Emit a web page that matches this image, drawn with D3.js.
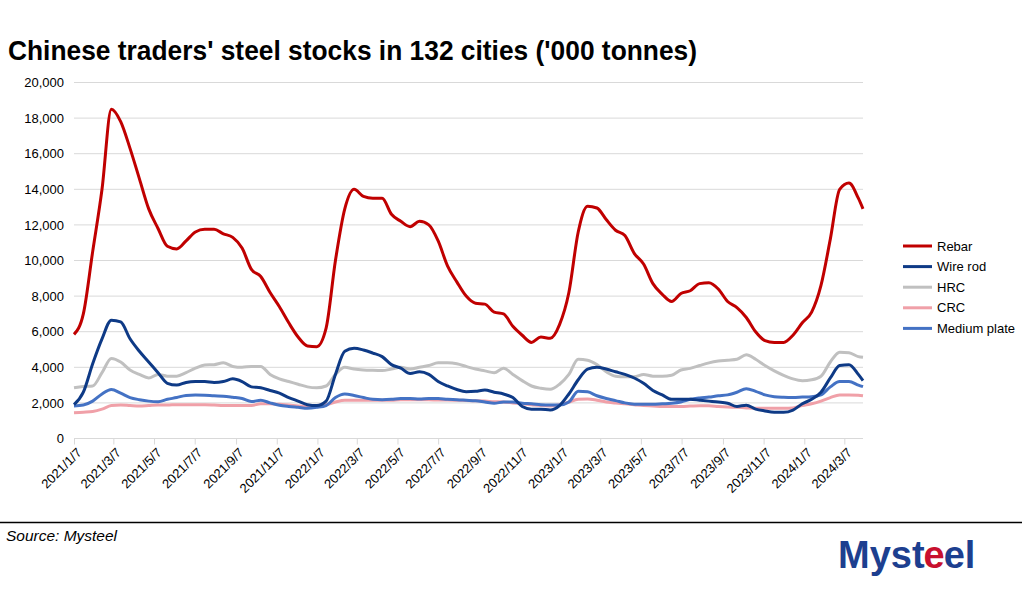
<!DOCTYPE html>
<html>
<head>
<meta charset="utf-8">
<script src="https://cdn.jsdelivr.net/npm/d3@7"></script>
<style>
  body { margin: 0; background: #fff; }
  svg { display: block; font-family: "Liberation Sans", Arial, sans-serif; }
</style>
</head>
<body>
<div id="chart"></div>
<script>
// data: Mysteel weekly stocks, sampled every two weeks ('000 tonnes)
var startDate = "2021/1/7", endDate = "2024/4/4";
var tickLabels = ["2021/1/7","2021/3/7","2021/5/7","2021/7/7","2021/9/7","2021/11/7",
  "2022/1/7","2022/3/7","2022/5/7","2022/7/7","2022/9/7","2022/11/7",
  "2023/1/7","2023/3/7","2023/5/7","2023/7/7","2023/9/7","2023/11/7",
  "2024/1/7","2024/3/7"];
var yTicks = [0,2000,4000,6000,8000,10000,12000,14000,16000,18000,20000];
var seriesNames = ["Rebar","Wire rod","HRC","CRC","Medium plate"];
var seriesColors = ["#c00000","#0e3a86","#c0c0c0","#f0a0a8","#4472c4"];

var rebar = [5850,7000,10500,14000,18500,17800,16300,14600,12900,11800,10800,10650,11100,11600,11750,11750,
  11500,11300,10700,9500,9100,8200,7400,6500,5700,5200,5160,6200,10000,12900,14000,13600,13500,13500,12600,12200,
  11900,12200,12000,11100,9700,8800,8000,7600,7550,7100,7000,6300,5800,5400,5700,5630,6400,8200,11600,13050,
  12950,12300,11700,11400,10400,9800,8700,8100,7700,8150,8300,8700,8750,8400,7700,7350,6800,6000,5500,5400,
  5400,5800,6500,7100,8600,11200,14000,14350,13500,12900];
var wireRod = [1900,2600,4200,5600,6650,6550,5600,4900,4300,3700,3100,3000,3150,3200,3200,3150,
  3200,3350,3200,2900,2850,2700,2550,2300,2100,1900,1850,2100,3600,4900,5070,4970,4800,4600,4150,3950,
  3650,3750,3600,3200,2950,2750,2630,2650,2720,2600,2500,2300,1800,1650,1650,1600,1850,2500,3300,3900,
  4000,3900,3750,3600,3400,3100,2700,2450,2200,2200,2200,2150,2100,2050,1980,1800,1870,1650,1550,1480,
  1470,1600,1950,2200,2600,3400,4100,4150,3600,3250];
var hrc = [2850,2920,2950,3700,4500,4300,3850,3600,3400,3600,3500,3500,3700,3950,4130,4150,
  4250,4050,4000,4050,4050,3600,3350,3200,3050,2900,2850,2950,3600,4000,3900,3850,3830,3820,3900,4000,
  3900,4000,4100,4250,4250,4200,4050,3900,3800,3700,3950,3600,3250,2950,2820,2760,3050,3600,4450,4400,
  4150,3750,3500,3470,3470,3600,3500,3500,3550,3850,3940,4100,4250,4350,4400,4450,4700,4450,4100,3800,
  3550,3350,3250,3300,3500,4300,4850,4820,4600,4560];
var crc = [1450,1480,1520,1650,1850,1880,1850,1820,1850,1880,1880,1900,1900,1900,1900,1880,
  1850,1850,1850,1850,1950,1950,1920,1880,1820,1800,1850,1900,2050,2150,2150,2150,2150,2150,2150,2170,
  2170,2170,2170,2160,2160,2150,2140,2120,2100,2070,2050,2000,1950,1900,1850,1830,1900,2050,2200,2220,
  2150,2050,2000,1950,1900,1850,1830,1800,1800,1800,1820,1840,1840,1800,1770,1750,1720,1700,1700,1700,
  1700,1720,1850,1950,2100,2300,2450,2450,2430,2400];
var mediumPlate = [1830,1880,2100,2500,2750,2550,2300,2180,2100,2070,2200,2300,2420,2440,2430,2400,
  2380,2320,2250,2080,2150,2000,1870,1800,1750,1700,1750,1850,2300,2500,2420,2300,2200,2180,2200,2250,
  2250,2220,2250,2250,2200,2180,2150,2120,2050,1980,2050,2050,1980,1950,1900,1880,1880,2050,2650,2620,
  2400,2250,2130,2000,1930,1920,1920,1950,1980,2050,2200,2280,2330,2400,2450,2600,2800,2650,2450,2350,
  2320,2310,2330,2350,2450,2900,3200,3200,3000,2910];

var seriesValues = [rebar, wireRod, hrc, crc, mediumPlate];

var parse = d3.timeParse("%Y/%m/%d");
var t0 = parse(startDate), t1 = parse(endDate);
var sampleDates = d3.range(85).map(function (i) { return d3.timeDay.offset(t0, i * 14); });
sampleDates.push(t1);

var W = 1025, H = 597;
var svg = d3.select("#chart").append("svg")
  .attr("width", W).attr("height", H);

// title
svg.append("text")
  .attr("x", 8).attr("y", 60)
  .attr("font-size", 28).attr("font-weight", "bold")
  .attr("textLength", 689).attr("lengthAdjust", "spacingAndGlyphs")
  .attr("fill", "#000")
  .text("Chinese traders' steel stocks in 132 cities ('000 tonnes)");

var x = d3.scaleTime().domain([t0, t1]).range([74, 863]);
var y = d3.scaleLinear().domain([0, 20000]).range([438.5, 82.5]);

// gridlines
svg.append("g").selectAll("line")
  .data(yTicks.filter(function (d) { return d > 0; }))
  .enter().append("line")
    .attr("x1", 74).attr("x2", 863)
    .attr("y1", function (d) { return y(d); })
    .attr("y2", function (d) { return y(d); })
    .attr("stroke", "#d9d9d9").attr("stroke-width", 1);

// Y axis labels
var yAxis = d3.axisLeft(y).tickValues(yTicks).tickSize(0).tickPadding(10)
  .tickFormat(d3.format(","));
svg.append("g")
  .attr("transform", "translate(74,0)")
  .call(yAxis)
  .call(function (g) { g.select(".domain").remove(); })
  .selectAll("text")
    .attr("font-size", 13).attr("fill", "#000")
    .attr("font-family", "Liberation Sans, Arial, sans-serif");

// X axis
var tickDates = tickLabels.map(parse);
var xAxis = d3.axisBottom(x).tickValues(tickDates).tickSize(6)
  .tickFormat(d3.timeFormat("%Y/%-m/%-d"));
var gx = svg.append("g")
  .attr("transform", "translate(0,438.5)")
  .call(xAxis);
gx.select(".domain").attr("stroke", "#d9d9d9").attr("d", "M74,0H863");
gx.selectAll(".tick line").attr("stroke", "#d9d9d9");
gx.selectAll("text")
  .attr("font-size", 13).attr("fill", "#000")
  .attr("font-family", "Liberation Sans, Arial, sans-serif")
  .attr("text-anchor", "end")
  .attr("dy", null).attr("y", 0)
  .attr("transform", "translate(8,15) rotate(-45)");

// lines
var line = d3.line()
  .x(function (d) { return x(d[0]); })
  .y(function (d) { return y(d[1]); })
  .curve(d3.curveMonotoneX);

var order = [3, 4, 2, 1, 0];
svg.append("g").selectAll("path")
  .data(order)
  .enter().append("path")
    .attr("fill", "none")
    .attr("stroke", function (i) { return seriesColors[i]; })
    .attr("stroke-width", 3)
    .attr("stroke-linejoin", "round")
    .attr("d", function (i) {
      return line(sampleDates.map(function (dt, k) { return [dt, seriesValues[i][k]]; })
        .filter(function (p) { return p[1] != null; }));
    });

// legend
var legend = svg.append("g").attr("transform", "translate(903,246)");
var item = legend.selectAll("g").data(seriesNames).enter().append("g")
  .attr("transform", function (d, i) { return "translate(0," + (i * 20.6) + ")"; });
item.append("line")
  .attr("x1", 0).attr("x2", 29).attr("y1", 0).attr("y2", 0)
  .attr("stroke", function (d, i) { return seriesColors[i]; })
  .attr("stroke-width", 3);
item.append("text")
  .attr("x", 34).attr("y", 4.5)
  .attr("font-size", 13).attr("fill", "#000")
  .text(function (d) { return d; });

// footer
svg.append("line")
  .attr("x1", 0).attr("x2", 1022).attr("y1", 522.5).attr("y2", 522.5)
  .attr("stroke", "#000").attr("stroke-width", 1.5);
svg.append("text")
  .attr("x", 6).attr("y", 541)
  .attr("font-size", 15).attr("font-style", "italic")
  .attr("textLength", 111).attr("lengthAdjust", "spacingAndGlyphs")
  .text("Source: Mysteel");

// logo: three pieces laid side by side
var logoParts = [["Myst", "#1d3f8f"], ["e", "#c8102e"], ["el", "#1d3f8f"]];
var lx = 838;
logoParts.forEach(function (p) {
  var t = svg.append("text")
    .attr("x", lx).attr("y", 568)
    .attr("font-size", 38).attr("font-weight", "bold")
    .attr("fill", p[1])
    .text(p[0]);
  lx += t.node().getComputedTextLength() - 1;
});
</script>
</body>
</html>
